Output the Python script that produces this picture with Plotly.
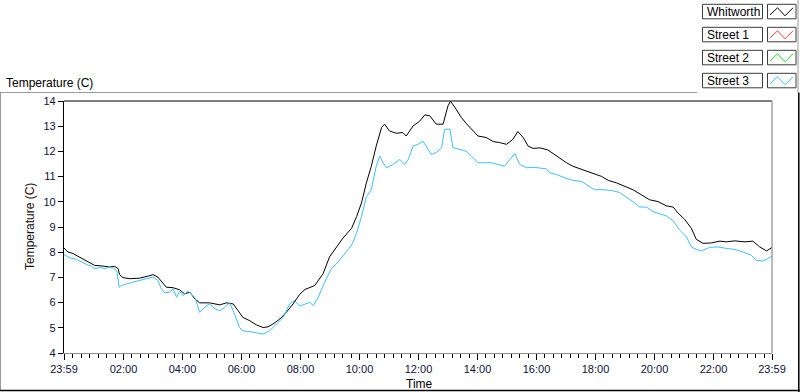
import plotly.graph_objects as go

# ---------------- data ----------------
series_names = ["Whitworth", "Street 1", "Street 2", "Street 3"]
series_colors = ["#000000", "#FF3B3B", "#22DD22", "#3FBFFF"]

whitworth_times = ["23:59","00:07","00:17","00:31","00:41","00:51","01:01","01:18","01:32","01:42","01:49","01:52","01:59","02:13","02:33","02:50","03:00","03:10","03:20","03:27","03:41","03:54","04:04","04:15","04:25","04:35","04:55","05:16","05:29","05:43","05:53","06:03","06:17","06:30","06:44","06:54","07:04","07:18","07:31","07:45","07:58","08:09","08:29","08:46","08:59","09:13","09:26","09:44","09:54","10:04","10:14","10:24","10:34","10:45","10:51","11:01","11:15","11:28","11:35","11:49","12:02","12:13","12:23","12:36","12:50","13:00","13:05","13:14","13:27","13:37","13:48","14:01","14:18","14:32","14:45","14:59","15:12","15:22","15:33","15:43","15:53","16:07","16:23","16:34","16:47","17:01","17:14","17:28","17:42","17:55","18:12","18:26","18:43","19:00","19:16","19:33","19:50","20:07","20:24","20:38","20:48","21:01","21:15","21:25","21:39","21:56","22:13","22:26","22:43","23:04","23:20","23:34","23:48","23:59"]
whitworth_values = [8.17,8.01,7.95,7.81,7.68,7.59,7.48,7.45,7.41,7.44,7.35,7.11,6.99,6.95,6.97,7.05,7.11,7.01,6.75,6.61,6.59,6.51,6.35,6.41,6.15,5.99,5.99,5.91,5.99,5.95,5.68,5.41,5.28,5.12,5.01,5.04,5.15,5.35,5.61,5.95,6.32,6.52,6.68,7.15,7.81,8.21,8.55,8.95,9.41,9.95,10.75,11.41,12.21,12.95,13.08,12.81,12.72,12.75,12.61,13.01,13.19,13.45,13.41,13.08,13.08,13.81,13.99,13.75,13.35,13.11,12.88,12.61,12.55,12.39,12.35,12.28,12.48,12.79,12.55,12.21,12.12,12.14,12.06,11.91,11.71,11.55,11.41,11.31,11.21,11.12,11.01,10.85,10.75,10.61,10.48,10.28,10.08,10.01,9.84,9.79,9.55,9.31,8.95,8.51,8.35,8.37,8.44,8.41,8.45,8.41,8.44,8.21,8.05,8.19]

street3_times = ["23:59","00:11","00:24","00:34","00:45","00:55","01:01","01:12","01:22","01:32","01:42","01:47","01:51","01:56","02:06","02:19","02:33","02:47","03:00","03:10","03:17","03:24","03:34","03:41","03:48","03:54","04:01","04:11","04:25","04:35","04:45","04:55","05:06","05:16","05:26","05:36","05:46","05:56","06:03","06:17","06:34","06:44","06:57","07:11","07:25","07:38","07:48","07:58","08:09","08:19","08:26","08:36","08:49","09:03","09:16","09:30","09:44","09:54","10:04","10:14","10:24","10:34","10:41","10:48","10:55","11:08","11:22","11:32","11:39","11:49","11:59","12:09","12:16","12:26","12:36","12:47","12:53","13:04","13:10","13:24","13:37","13:48","14:01","14:15","14:28","14:42","14:55","15:06","15:16","15:26","15:40","15:53","16:07","16:20","16:27","16:41","16:58","17:14","17:31","17:45","17:58","18:15","18:32","18:49","19:03","19:16","19:30","19:44","19:57","20:11","20:24","20:38","20:51","21:05","21:15","21:25","21:35","21:52","22:09","22:26","22:43","23:00","23:17","23:27","23:41","23:59"]
street3_values = [7.91,7.77,7.72,7.61,7.51,7.44,7.35,7.39,7.35,7.41,7.35,7.21,6.61,6.68,6.75,6.81,6.88,6.95,7.01,6.88,6.55,6.39,6.41,6.55,6.21,6.45,6.28,6.45,6.21,5.61,5.81,5.95,5.75,5.68,5.81,5.99,5.55,5.01,4.88,4.85,4.79,4.75,4.88,5.15,5.41,5.95,6.08,5.86,5.95,6.01,5.88,6.21,6.81,7.35,7.61,7.95,8.28,8.75,9.41,10.21,10.48,11.41,11.81,11.55,11.35,11.48,11.68,11.48,11.68,12.21,12.28,12.41,12.21,11.88,11.95,12.15,12.88,12.88,12.15,12.08,12.01,11.81,11.55,11.55,11.55,11.48,11.41,11.68,11.91,11.48,11.35,11.37,11.35,11.31,11.15,11.08,10.95,10.85,10.81,10.64,10.48,10.48,10.45,10.37,10.19,10.01,9.79,9.79,9.61,9.52,9.44,9.25,8.88,8.61,8.21,8.11,8.05,8.19,8.21,8.15,8.11,8.01,7.88,7.68,7.65,7.84]

x_tick_labels = ["23:59","02:00","04:00","06:00","08:00","10:00","12:00","14:00","16:00","18:00","20:00","22:00","23:59"]
y_ticks = [4,5,6,7,8,9,10,11,12,13,14]

DAY0 = "2000-01-01 "
DAY1 = "2000-01-02 "

def to_dt(times):
    # first sample is 23:59 of the previous day
    return [(DAY0 if i == 0 else DAY1) + t for i, t in enumerate(times)]

tick_vals = [(DAY0 if i == 0 else DAY1) + t for i, t in enumerate(x_tick_labels)]

FONT = "Liberation Sans, Arial, sans-serif"
W, H = 800, 392

def px(x):
    return x / W

def py(y):
    return 1 - y / H

fig = go.Figure()
fig.add_trace(go.Scatter(x=to_dt(whitworth_times), y=whitworth_values, mode="lines",
                         line=dict(color=series_colors[0], width=1), name=series_names[0]))
fig.add_trace(go.Scatter(x=to_dt(street3_times), y=street3_values, mode="lines",
                         line=dict(color=series_colors[3], width=1), name=series_names[3]))

PL, PR, PT, PB = 64, 772, 101, 353

shapes = []
annotations = []

# outer panel frame
shapes.append(dict(type="line", xref="paper", yref="paper", x0=px(0), x1=px(697), y0=py(92.5), y1=py(92.5),
                   line=dict(color="#9A9A9A", width=1)))
shapes.append(dict(type="line", xref="paper", yref="paper", x0=px(0.5), x1=px(0.5), y0=py(92.5), y1=py(391),
                   line=dict(color="#9A9A9A", width=1)))
shapes.append(dict(type="line", xref="paper", yref="paper", x0=px(0), x1=px(800), y0=py(390.5), y1=py(390.5),
                   line=dict(color="#000000", width=1.5)))
shapes.append(dict(type="line", xref="paper", yref="paper", x0=px(798.8), x1=px(798.8), y0=py(92.5), y1=py(392),
                   line=dict(color="#000000", width=1.5)))
shapes.append(dict(type="line", xref="paper", yref="paper", x0=px(798), x1=px(798), y0=py(0), y1=py(92.5),
                   line=dict(color="#9A9A9A", width=1)))

# plot-area frame (sunken look: black top/left, gray right/bottom)
shapes.append(dict(type="line", xref="paper", yref="paper", x0=px(PL), x1=px(PR), y0=py(PT), y1=py(PT),
                   line=dict(color="#000000", width=1.2)))
shapes.append(dict(type="line", xref="paper", yref="paper", x0=px(PR), x1=px(PR), y0=py(PT), y1=py(PB),
                   line=dict(color="#8C8C8C", width=1.2)))

# legend (manual, LabVIEW-style plot legend)
for i, (nm, col) in enumerate(zip(series_names, series_colors)):
    top = 4.3 + i * 23.0
    bot = top + 14.5
    shapes.append(dict(type="rect", xref="paper", yref="paper", x0=px(702.5), x1=px(762.5),
                       y0=py(bot), y1=py(top), line=dict(color="#3C3C3C", width=1), fillcolor="white"))
    shapes.append(dict(type="rect", xref="paper", yref="paper", x0=px(767.5), x1=px(796),
                       y0=py(bot), y1=py(top), line=dict(color="#3C3C3C", width=1), fillcolor="white"))
    gx = [770, 777.5, 785, 793]
    gy = [top + 10.5, top + 3.5, top + 11.5, top + 3.5]
    path = "M {} {} L {} {} L {} {} L {} {}".format(px(gx[0]), py(gy[0]), px(gx[1]), py(gy[1]),
                                                   px(gx[2]), py(gy[2]), px(gx[3]), py(gy[3]))
    shapes.append(dict(type="path", xref="paper", yref="paper", path=path,
                       line=dict(color=col, width=1)))
    annotations.append(dict(text=nm, xref="paper", yref="paper", x=px(704.5), y=py((top + bot) / 2),
                            xanchor="left", yanchor="middle", showarrow=False,
                            font=dict(family=FONT, size=12, color="#000000")))

# chart caption and axis titles
annotations.append(dict(text="Temperature (C)", xref="paper", yref="paper", x=px(4), y=py(82.5),
                        xanchor="left", yanchor="middle", showarrow=False,
                        font=dict(family=FONT, size=12, color="#000000")))
annotations.append(dict(text="Time", xref="paper", yref="paper", x=px(419), y=py(384),
                        xanchor="center", yanchor="middle", showarrow=False,
                        font=dict(family=FONT, size=12, color="#000000")))
annotations.append(dict(text="Temperature (C)", xref="paper", yref="paper", x=px(30), y=py(227),
                        xanchor="center", yanchor="middle", showarrow=False, textangle=-90,
                        font=dict(family=FONT, size=12, color="#1A0A0A")))

fig.update_layout(
    width=W, height=H,
    margin=dict(l=0, r=0, t=0, b=0, pad=0, autoexpand=False),
    paper_bgcolor="white", plot_bgcolor="white",
    showlegend=False,
    shapes=shapes, annotations=annotations,
    xaxis=dict(
        type="date",
        domain=[px(PL), px(PR)],
        range=[tick_vals[0], tick_vals[-1]],
        tickmode="array", tickvals=tick_vals, ticktext=x_tick_labels,
        ticks="outside", ticklen=6, tickwidth=1, tickcolor="#000000",
        showline=True, linecolor="#8C8C8C", linewidth=1.2,
        showgrid=False, zeroline=False, automargin=False,
        tickfont=dict(family=FONT, size=11, color="#10103A"),
        minor=dict(ticks="outside", ticklen=3.5, tickwidth=1, tickcolor="#000000",
                   tick0=DAY1 + "02:00", dtick=7200000 / 7, showgrid=False),
    ),
    yaxis=dict(
        domain=[py(PB), py(PT)],
        range=[4, 14],
        tickmode="array", tickvals=y_ticks,
        ticks="outside", ticklen=5, tickwidth=1, tickcolor="#000000",
        showline=True, linecolor="#000000", linewidth=1.2,
        showgrid=False, zeroline=False, automargin=False,
        tickfont=dict(family=FONT, size=11, color="#10103A"),
    ),
)

# remove the browser's default 8px page margin so the 800x392 figure fills the window
fig.write_html("out.html", config={"displayModeBar": False},
               post_script="document.body.style.margin='0px';document.body.style.overflow='hidden';")
